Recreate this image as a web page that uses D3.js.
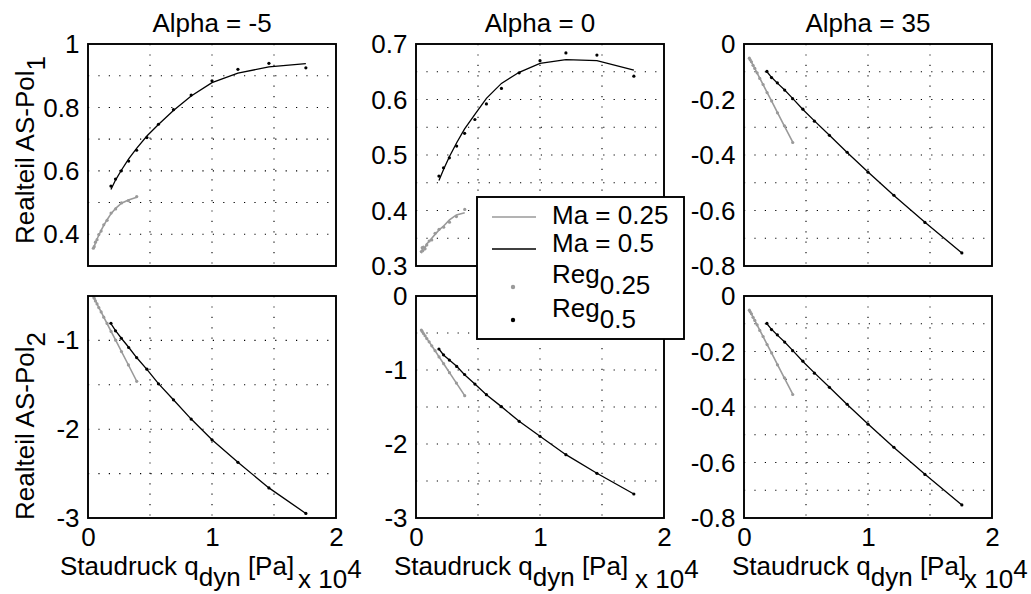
<!DOCTYPE html>
<html>
<head>
<meta charset="utf-8">
<script src="https://cdn.jsdelivr.net/npm/d3@7"></script>
<style>
  html, body { margin: 0; padding: 0; background: #fff; }
  svg { display: block; font-family: "Liberation Sans", Arial, Helvetica, sans-serif; }
</style>
</head>
<body>
<svg id="chart" width="1031" height="594"></svg>
<script>
// Dynamic pressure (x 10^4 Pa) of the flight points for each Mach number
const qMa025 = [0.043, 0.050, 0.060, 0.073, 0.087, 0.106, 0.127, 0.154, 0.186, 0.223, 0.270, 0.326, 0.393];
const qMa05  = [0.185, 0.222, 0.269, 0.328, 0.392, 0.475, 0.568, 0.689, 0.832, 1.000, 1.209, 1.459, 1.757];

const alphas = ["-5", "0", "35"];

// Real part of pole 1 — model curve (fit) and regression points (reg)
const re1_m5_fit025 = [0.354, 0.362, 0.372, 0.385, 0.397, 0.412, 0.428, 0.446, 0.465, 0.482, 0.498, 0.508, 0.517];
const re1_m5_reg025 = [0.356, 0.361, 0.375, 0.383, 0.399, 0.410, 0.430, 0.444, 0.467, 0.480, 0.499, 0.506, 0.519];
const re1_m5_fit05  = [0.541, 0.571, 0.602, 0.638, 0.671, 0.710, 0.746, 0.790, 0.836, 0.878, 0.908, 0.928, 0.938];
const re1_m5_reg05  = [0.552, 0.574, 0.600, 0.631, 0.665, 0.705, 0.747, 0.793, 0.839, 0.884, 0.920, 0.939, 0.925];

const re1_0_fit025 = [0.323, 0.330, 0.327, 0.333, 0.340, 0.344, 0.350, 0.357, 0.365, 0.372, 0.383, 0.392, 0.396];
const re1_0_reg025 = [0.326, 0.333, 0.334, 0.331, 0.338, 0.345, 0.347, 0.359, 0.366, 0.370, 0.379, 0.389, 0.402];
const re1_0_fit05  = [0.454, 0.474, 0.497, 0.522, 0.547, 0.573, 0.602, 0.629, 0.649, 0.665, 0.672, 0.670, 0.653];
const re1_0_reg05  = [0.462, 0.477, 0.495, 0.516, 0.539, 0.564, 0.592, 0.620, 0.648, 0.670, 0.684, 0.680, 0.642];

const re1_35_fit025 = [-0.050, -0.056, -0.065, -0.076, -0.088, -0.105, -0.123, -0.146, -0.174, -0.206, -0.247, -0.296, -0.354];
const re1_35_reg025 = [-0.051, -0.057, -0.064, -0.077, -0.088, -0.104, -0.124, -0.146, -0.175, -0.205, -0.248, -0.295, -0.355];
const re1_35_fit05  = [-0.100, -0.120, -0.141, -0.166, -0.196, -0.236, -0.277, -0.329, -0.391, -0.461, -0.546, -0.642, -0.753];
const re1_35_reg05  = [-0.099, -0.121, -0.140, -0.166, -0.197, -0.235, -0.278, -0.329, -0.390, -0.462, -0.545, -0.643, -0.753];

// Real part of pole 2
const re2_m5_fit025 = [-0.500, -0.525, -0.553, -0.590, -0.628, -0.680, -0.737, -0.810, -0.898, -0.998, -1.125, -1.277, -1.460];
const re2_m5_reg025 = [-0.502, -0.524, -0.555, -0.589, -0.630, -0.679, -0.738, -0.809, -0.899, -0.997, -1.126, -1.276, -1.461];
const re2_m5_fit05  = [-0.812, -0.890, -0.976, -1.077, -1.193, -1.326, -1.487, -1.669, -1.886, -2.118, -2.373, -2.661, -2.949];
const re2_m5_reg05  = [-0.807, -0.892, -0.976, -1.080, -1.193, -1.324, -1.489, -1.669, -1.886, -2.120, -2.373, -2.661, -2.949];

const re2_0_fit025 = [-0.458, -0.480, -0.505, -0.538, -0.573, -0.620, -0.672, -0.740, -0.822, -0.915, -1.035, -1.178, -1.347];
const re2_0_reg025 = [-0.460, -0.479, -0.507, -0.537, -0.575, -0.619, -0.673, -0.739, -0.823, -0.914, -1.036, -1.177, -1.347];
const re2_0_fit05  = [-0.716, -0.797, -0.865, -0.950, -1.063, -1.189, -1.333, -1.495, -1.694, -1.896, -2.144, -2.396, -2.676];
const re2_0_reg05  = [-0.716, -0.795, -0.866, -0.952, -1.061, -1.190, -1.333, -1.495, -1.694, -1.896, -2.144, -2.396, -2.676];

const re2_35_fit025 = [-0.050, -0.056, -0.065, -0.076, -0.088, -0.105, -0.123, -0.146, -0.174, -0.206, -0.247, -0.296, -0.354];
const re2_35_reg025 = [-0.051, -0.057, -0.064, -0.077, -0.088, -0.104, -0.124, -0.146, -0.175, -0.205, -0.248, -0.295, -0.355];
const re2_35_fit05  = [-0.100, -0.120, -0.141, -0.166, -0.196, -0.236, -0.277, -0.329, -0.391, -0.461, -0.546, -0.642, -0.753];
const re2_35_reg05  = [-0.099, -0.121, -0.140, -0.166, -0.197, -0.235, -0.278, -0.329, -0.390, -0.462, -0.545, -0.643, -0.753];

// Axis ticks
const xTicks = [0, 1, 2];
const xTickLabels = ["0", "1", "2"];
const xGrid = [0.5, 1, 1.5];

const yTicks_r1 = [[0.4, 0.6, 0.8, 1], [0.3, 0.4, 0.5, 0.6, 0.7], [-0.8, -0.6, -0.4, -0.2, 0]];
const yLabels_r1 = [["0.4", "0.6", "0.8", "1"], ["0.3", "0.4", "0.5", "0.6", "0.7"], ["-0.8", "-0.6", "-0.4", "-0.2", "0"]];
const yTicks_r2 = [[-3, -2, -1], [-3, -2, -1, 0], [-0.8, -0.6, -0.4, -0.2, 0]];
const yLabels_r2 = [["-3", "-2", "-1"], ["-3", "-2", "-1", "0"], ["-0.8", "-0.6", "-0.4", "-0.2", "0"]];

const yGrid_r1 = [[0.4, 0.5, 0.6, 0.7, 0.8, 0.9], [0.35, 0.4, 0.45, 0.5, 0.55, 0.6, 0.65],
                  [-0.7, -0.6, -0.5, -0.4, -0.3, -0.2, -0.1]];
const yGrid_r2 = [[-2.5, -2, -1.5, -1], [-2.5, -2, -1.5, -1, -0.5],
                  [-0.7, -0.6, -0.5, -0.4, -0.3, -0.2, -0.1]];

const yDomain_r1 = [[0.3, 1], [0.3, 0.7], [-0.8, 0]];
const yDomain_r2 = [[-3, -0.5], [-3, 0], [-0.8, 0]];

const legendLabels = ["Ma = 0.25", "Ma = 0.5", "Reg", "Reg"];
const legendSubs = ["", "", "0.25", "0.5"];

const C_LOW = "#9a9a9a";
const C_HIGH = "#000000";
const FONT = 26;

const svg = d3.select("#chart");

// Panel geometry
const colLeft = [88, 416, 744];
const panelW = 248, panelH = 222;
const rowTop = [44, 296];

const panels = [
  { row: 0, col: 0, yd: yDomain_r1[0], yt: yTicks_r1[0], yl: yLabels_r1[0], yg: yGrid_r1[0],
    s: [re1_m5_fit025, re1_m5_reg025, re1_m5_fit05, re1_m5_reg05] },
  { row: 0, col: 1, yd: yDomain_r1[1], yt: yTicks_r1[1], yl: yLabels_r1[1], yg: yGrid_r1[1],
    s: [re1_0_fit025, re1_0_reg025, re1_0_fit05, re1_0_reg05] },
  { row: 0, col: 2, yd: yDomain_r1[2], yt: yTicks_r1[2], yl: yLabels_r1[2], yg: yGrid_r1[2],
    s: [re1_35_fit025, re1_35_reg025, re1_35_fit05, re1_35_reg05] },
  { row: 1, col: 0, yd: yDomain_r2[0], yt: yTicks_r2[0], yl: yLabels_r2[0], yg: yGrid_r2[0],
    s: [re2_m5_fit025, re2_m5_reg025, re2_m5_fit05, re2_m5_reg05] },
  { row: 1, col: 1, yd: yDomain_r2[1], yt: yTicks_r2[1], yl: yLabels_r2[1], yg: yGrid_r2[1],
    s: [re2_0_fit025, re2_0_reg025, re2_0_fit05, re2_0_reg05] },
  { row: 1, col: 2, yd: yDomain_r2[2], yt: yTicks_r2[2], yl: yLabels_r2[2], yg: yGrid_r2[2],
    s: [re2_35_fit025, re2_35_reg025, re2_35_fit05, re2_35_reg05] }
];

panels.forEach((p, idx) => {
  const x0 = colLeft[p.col], y0 = rowTop[p.row];
  const g = svg.append("g").attr("transform", `translate(${x0},${y0})`);
  const x = d3.scaleLinear().domain([0, 2]).range([0, panelW]);
  const y = d3.scaleLinear().domain(p.yd).range([panelH, 0]);

  const clipId = "clip" + idx;
  g.append("clipPath").attr("id", clipId)
    .append("rect").attr("x", 0).attr("y", 0).attr("width", panelW).attr("height", panelH);

  // dotted grid
  const grid = g.append("g").attr("stroke", "#000").attr("stroke-width", 1.1)
    .attr("stroke-dasharray", "1.2,9.2");
  grid.selectAll("line.gx").data(xGrid).join("line")
    .attr("x1", d => x(d)).attr("x2", d => x(d)).attr("y1", 0).attr("y2", panelH);
  grid.selectAll("line.gy").data(p.yg).join("line")
    .attr("y1", d => y(d)).attr("y2", d => y(d)).attr("x1", 0).attr("x2", panelW);

  // y tick labels
  const yAxis = d3.axisLeft(y).tickValues(p.yt).tickSize(0).tickPadding(8.5)
    .tickFormat((d, i) => p.yl[i]);
  const ya = g.append("g").call(yAxis);
  ya.select(".domain").remove();
  ya.selectAll("text").attr("font-size", FONT).attr("font-family", null).attr("fill", "#000")
    .attr("dy", "0.33em");

  // x tick labels on the lower row
  if (p.row === 1) {
    const xAxis = d3.axisBottom(x).tickValues(xTicks).tickSize(0).tickPadding(10)
      .tickFormat((d, i) => xTickLabels[i]);
    const xa = g.append("g").attr("transform", `translate(0,${panelH})`).call(xAxis);
    xa.select(".domain").remove();
    xa.selectAll("text").attr("font-size", FONT).attr("font-family", null).attr("fill", "#000")
      .attr("dy", "0.7em");
  }

  const plot = g.append("g").attr("clip-path", `url(#${clipId})`);
  const line = xs => d3.line().x((d, i) => x(xs[i])).y(d => y(d));

  // Ma = 0.25 curve and regression points
  plot.append("path").datum(p.s[0]).attr("d", line(qMa025))
    .attr("fill", "none").attr("stroke", C_LOW).attr("stroke-width", 1.6);
  plot.selectAll("circle.r025").data(p.s[1]).join("circle")
    .attr("cx", (d, i) => x(qMa025[i])).attr("cy", d => y(d)).attr("r", 1.6).attr("fill", C_LOW);

  // Ma = 0.5 curve and regression points
  plot.append("path").datum(p.s[2]).attr("d", line(qMa05))
    .attr("fill", "none").attr("stroke", C_HIGH).attr("stroke-width", 1.3);
  plot.selectAll("circle.r05").data(p.s[3]).join("circle")
    .attr("cx", (d, i) => x(qMa05[i])).attr("cy", d => y(d)).attr("r", 1.6).attr("fill", C_HIGH);

  // frame
  g.append("rect").attr("width", panelW).attr("height", panelH)
    .attr("fill", "none").attr("stroke", "#000").attr("stroke-width", 1.9);

  // column titles
  if (p.row === 0) {
    g.append("text").attr("x", panelW / 2).attr("y", -12).attr("text-anchor", "middle")
      .attr("font-size", FONT).text("Alpha = " + alphas[p.col]);
  }

  // x label with exponent
  if (p.row === 1) {
    const xl = g.append("text").attr("x", [-28, -22, -12][p.col]).attr("y", panelH + 57)
      .attr("font-size", FONT);
    xl.append("tspan").text("Staudruck q");
    xl.append("tspan").attr("dy", 11).text("dyn");
    xl.append("tspan").attr("dy", -11).text(" [Pa]");
    const ex = g.append("text").attr("x", [-38, -29, -28][p.col] + panelW).attr("y", panelH + 70)
      .attr("font-size", FONT);
    ex.append("tspan").text("x 10");
    ex.append("tspan").attr("dy", -10).text("4");
  }
});

// y labels
[["Realteil AS-Pol", "1", 150], ["Realteil AS-Pol", "2", 426]].forEach(([t, sub, cy]) => {
  const tx = svg.append("text").attr("transform", `translate(34,${cy}) rotate(-90)`)
    .attr("text-anchor", "middle").attr("font-size", FONT);
  tx.append("tspan").text(t);
  tx.append("tspan").attr("dy", 11).text(sub);
});

// legend
const lg = svg.append("g").attr("transform", "translate(477,197)");
lg.append("rect").attr("width", 207).attr("height", 142).attr("fill", "#fff")
  .attr("stroke", "#000").attr("stroke-width", 1.9);
const legendRows = [
  { kind: "line", color: C_LOW, y: 20, w: 1.6, ty: 27 },
  { kind: "line", color: C_HIGH, y: 52, w: 1.3, ty: 55 },
  { kind: "dot", color: C_LOW, y: 90, ty: 86 },
  { kind: "dot", color: C_HIGH, y: 123, ty: 120 }
];
legendRows.forEach((r, i) => {
  if (r.kind === "line") {
    lg.append("line").attr("x1", 15).attr("x2", 59).attr("y1", r.y).attr("y2", r.y)
      .attr("stroke", r.color).attr("stroke-width", r.w);
    lg.append("text").attr("x", 75).attr("y", r.ty).attr("font-size", FONT).text(legendLabels[i]);
  } else {
    lg.append("circle").attr("cx", 36).attr("cy", r.y).attr("r", 2.2).attr("fill", r.color);
    const t = lg.append("text").attr("x", 75).attr("y", r.ty).attr("font-size", FONT);
    t.append("tspan").text(legendLabels[i]);
    t.append("tspan").attr("dy", 11).text(legendSubs[i]);
  }
});
</script>
</body>
</html>
